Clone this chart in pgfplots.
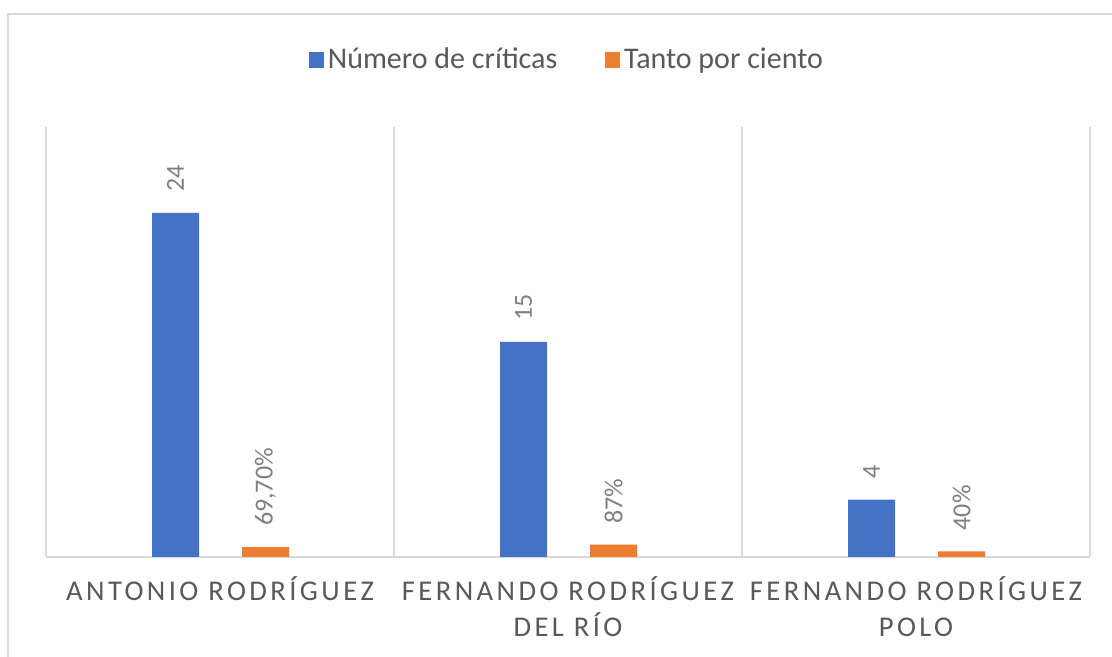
\documentclass[border=0pt]{standalone}
\usepackage{pgfplots}
\pgfplotsset{compat=1.18}
\usepackage{fontspec}
\setmainfont{Carlito}
\definecolor{cblue}{HTML}{4472C4}
\definecolor{corange}{HTML}{ED7D31}
\definecolor{gridc}{HTML}{D9D9D9}
\definecolor{txt}{HTML}{595959}
\definecolor{lbl}{HTML}{7F7F7F}
\newcommand\cl[1]{{\addfontfeature{LetterSpace=12}#1}}
\begin{document}
\begin{tikzpicture}
\useasboundingbox (0,0) rectangle (556pt,328.5pt);
\fill[white] (0,0) rectangle (556pt,328.5pt);
\draw[gridc, line width=1pt] (4pt,-5pt) -- (4pt,321.5pt) -- (560pt,321.5pt);
\begin{axis}[
  at={(23pt,50pt)}, anchor=south west,
  scale only axis, width=522pt, height=215pt,
  xmin=-0.5, xmax=2.5, ymin=0, ymax=30,
  ybar, bar width=23.5pt,
  axis x line*=bottom, axis y line=none,
  x axis line style={-, draw=gridc, line width=0.8pt},
  ytick=\empty,
  xtick={0,1,2},
  xticklabels={{\cl{ANTONIO RODRÍGUEZ}},{\cl{FERNANDO RODRÍGUEZ}\\\cl{DEL RÍO}},{\cl{FERNANDO RODRÍGUEZ}\\\cl{POLO}}},
  xticklabel style={font=\fontsize{14.3}{17.8}\selectfont, text=txt, align=center, yshift=-6.5pt},
  major tick length=0pt, minor tick length=0pt,
  minor xtick={-0.5,0.5,1.5,2.5},
  xminorgrids=true,
  minor x grid style={draw=gridc, line width=0.8pt},
  legend style={at={(0.5,1.156)}, anchor=center, draw=none, fill=none,
    legend columns=2, font=\fontsize{15}{17}\selectfont, text=txt,
    /tikz/every even column/.append style={column sep=22pt}},
  legend image code/.code={\fill[#1] (0pt,-3.8pt) rectangle (7.4pt,3.8pt);},
  nodes near coords,
  point meta=explicit symbolic,
  every node near coord/.append style={rotate=90, anchor=west, font=\fontsize{13}{15}\selectfont, text=lbl, xshift=7pt},
]
\addplot[fill=cblue, draw=none, bar shift=-22.25pt] table[meta=lab] {
x y lab
0 24 24
1 15 15
2 4 4
};
\addlegendentry{Número de críticas}
\addplot[fill=corange, draw=none, bar shift=22.75pt] table[meta=lab] {
x y lab
0 0.697 69,70\%
1 0.87 87\%
2 0.40 40\%
};
\addlegendentry{Tanto por ciento}
\end{axis}
\end{tikzpicture}
\end{document}
